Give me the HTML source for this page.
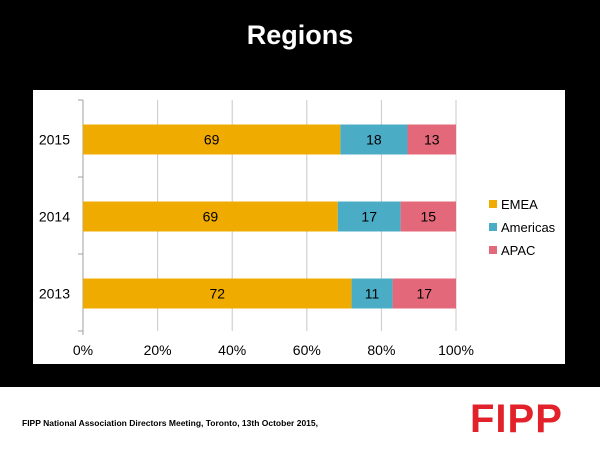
<!DOCTYPE html>
<html><head><meta charset="utf-8"><style>
body{margin:0;width:600px;height:450px;background:#000;overflow:hidden;font-family:"Liberation Sans",sans-serif;position:relative}
#title{position:absolute;left:0;top:20px;width:600px;text-align:center;color:#fff;font-weight:bold;font-size:27px}
#footer{position:absolute;left:0;top:387px;width:600px;height:63px;background:#fff}
#foot-text{position:absolute;left:22px;top:31px;font-size:8.5px;font-weight:bold;color:#000}
#logo{position:absolute;left:470px;top:10px;color:#e3212b;font-size:40px;font-weight:bold;letter-spacing:1px}
</style></head><body>
<div id="title">Regions</div>
<svg id="chart" width="600" height="450" style="position:absolute;left:0;top:0"></svg>
<div id="footer">
<div id="foot-text">FIPP National Association Directors Meeting, Toronto, 13th October 2015,</div>
<div id="logo">FIPP</div>
</div>
<script>
const categories=["2015","2014","2013"];
const emea=[69,69,72];
const americas=[18,17,11];
const apac=[13,15,17];
const seriesNames=["EMEA","Americas","APAC"];
const ticks=[0,20,40,60,80,100];
const colors=["#f0ab00","#4bacc6","#e3687a"];
const NS="http://www.w3.org/2000/svg";
const svg=document.getElementById('chart');
function mk(t,a){const e=document.createElementNS(NS,t);for(const k in a)e.setAttribute(k,a[k]);svg.appendChild(e);return e;}
const X0=83,X1=456,Y0=100,Y1=331;
const xs=v=>X0+(X1-X0)*v/100;
const band=(Y1-Y0)/categories.length;
const yc=i=>Y0+band*(i+0.5)+1;
let bg=mk('rect',{x:33,y:90,width:532,height:274,fill:'#fff'});


ticks.forEach(t=>{
 const l=mk('line',{x1:xs(t),x2:xs(t),y1:Y0,y2:Y1+(t===0?4:0),stroke:t===0?'#a0a0a0':'#c8c8c8','stroke-width':1});
 
 
 const tx=mk('text',{x:xs(t),y:Y1+24,'text-anchor':'middle','font-size':14,fill:'#000'});
 tx.textContent=t+'%';
 
 
});
for(let i=0;i<=categories.length;i++){
 const l=mk('line',{x1:X0-5,x2:X0,y1:Y0+band*i,y2:Y0+band*i,stroke:'#a0a0a0'});
 
 
}
const series=[emea,americas,apac];
categories.forEach((c,i)=>{
 const lab=mk('text',{x:X0-13,y:yc(i)+5,'text-anchor':'end','font-size':14,fill:'#000'});
 lab.textContent=c;
 
 
 const total=series.reduce((s,a)=>s+a[i],0);
 let acc=0;
 series.forEach((s,k)=>{
  const v=s[i];
  const a0=acc/total*100, a1=(acc+v)/total*100;
  const r=mk('rect',{x:xs(a0),y:yc(i)-15,width:xs(a1)-xs(a0),height:30,fill:colors[k]});
  
  
  const t=mk('text',{x:(xs(a0)+xs(a1))/2,y:yc(i)+5,'text-anchor':'middle','font-size':14,fill:'#000'});
  t.textContent=v;
  
  
  acc+=v;
 });
});
seriesNames.forEach((n,k)=>{
 const y=204+k*23;
 const s=mk('rect',{x:489,y:y-4,width:8,height:8,fill:colors[k]});
 
 
 const t=mk('text',{x:501,y:y+5,'font-size':13,fill:'#000'});
 t.textContent=n;
 
 
});
</script>
</body></html>
